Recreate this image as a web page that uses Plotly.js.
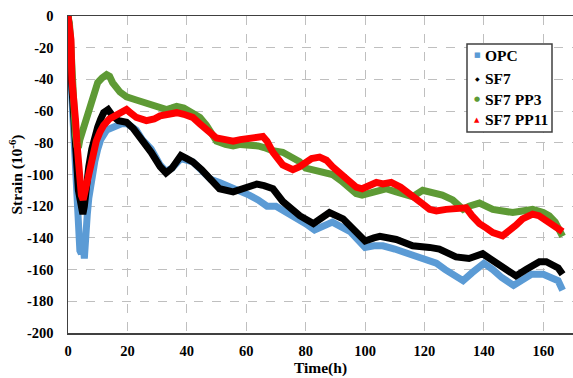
<!DOCTYPE html>
<html>
<head>
<meta charset="utf-8">
<script src="https://cdn.plot.ly/plotly-3.0.1.min.js"></script>
<style>html,body{margin:0;padding:0;background:#fff;}#chart{width:573px;height:378px;}</style>
</head>
<body>
<div id="chart"></div>
<script>
// Series names
const seriesNames = ["OPC", "SF7", "SF7 PP3", "SF7 PP11"];

// OPC
const tOPC = [0,0.5,1,1.5,2,2.5,3,3.5,4,4.5,5,5.5,6,6.5,7,8,9,10,11,13,15,18,20,23,25,28,31,33,35,38,42,45,48,51,55,58,61,64,67,70,72,75,78,80,83,86,89,92,95,98,100,103,106,110,113,116,120,124,127,130,133,136,140,143,146,150,153,156,160,163,165,166.5];
const vOPC = [0,-10,-40,-60,-65,-80,-100,-125,-148,-150,-140,-153,-130,-125,-115,-102,-92,-84,-78,-72,-70,-68,-68,-72,-78,-84,-94,-98,-96,-90,-92,-97,-103,-105,-108,-110,-113,-116,-120,-120,-122,-125,-128,-131,-135,-133,-130,-133,-136,-142,-146,-145,-145,-147,-149,-151,-153,-156,-160,-163,-167,-162,-156,-160,-165,-170,-166,-163,-163,-165,-167,-173];

// SF7
const tSF7 = [0,0.5,1,1.5,2,2.5,3,3.5,4,4.5,5,5.5,6,6.5,7,8,9,10,11,12,13.5,15,17,19.7,22,25,28,31,33,35,38,40,42,45,47.7,51,55.6,59,63.6,66,69,72.3,75,78,82.6,85,88,92.6,97,100,103,105,110.5,116,121.7,125,130.6,135,139.6,145.2,150.8,154.2,158.7,161,163.1,165,166.5];
const vSF7 = [0,-8,-35,-55,-65,-80,-95,-110,-118,-122,-125,-120,-110,-103,-95,-84,-76,-70,-65,-61,-59,-63,-66,-67,-71,-78,-86,-95,-99,-96,-88,-90,-92,-97,-103,-109,-111,-109,-106,-107,-109,-117,-121,-126,-131,-128,-124,-128,-136,-142,-140,-139,-141,-145,-146,-147,-152,-153,-150,-157,-164,-160,-155,-155,-157,-159,-163];

// SF7 PP3
const tPP3 = [0,0.5,1,1.5,2,2.5,3,3.5,4,5,5.7,7,8.5,10,11.5,13,14,15,17.5,19.7,23,26.4,30,33.2,35,36.6,39,42,44.4,46.6,48,50,53,55.6,58,61,64,66,69,72.3,75.7,78,80,84.7,89,92,94.8,97,99,101,103.8,107,110.5,113,116,119.4,122.8,126,129.5,133,135,138.5,143,146,149.7,153,156.4,160,162,164,165.5,166.5];
const vPP3 = [0,-5,-20,-45,-60,-75,-82,-83,-78,-72,-68,-57,-48,-42,-39,-37,-38,-42,-48,-51,-53,-55,-57,-59,-58,-57,-58,-61,-64,-69,-74,-79,-81,-82,-81,-81,-82,-83,-85,-86,-89,-92,-96,-98,-100,-104,-109,-112,-113,-112,-111,-109,-111,-112,-114,-110,-111,-113,-116,-122,-120,-118,-122,-123,-124,-123,-122,-124,-126,-130,-135,-139];

// SF7 PP11
const tPP11 = [0,0.5,1,1.3,1.8,2.5,3,3.5,4,4.5,5.1,5.8,6.8,7.5,8.5,9.5,10.8,12,13.9,16,18,19.7,21,23,26.4,29,31,34,36.6,39,42,44.4,46.6,50,53,55.6,58,61,63,65.6,67,69,72.3,75.7,78,80,82,84.7,87,89,92,94.8,97,99,101.5,103.8,106,108.8,112,116,119,121.7,124,127.3,131,134,136,138.5,141,143,146.3,148.5,150.8,153,156.4,158.5,161,163,165.4,166.5];
const vPP11 = [0,-5,-15,-40,-48,-65,-80,-95,-107,-113,-116,-110,-99,-92,-86,-79,-73,-69,-65,-63,-61,-59,-61,-64,-66,-65,-63,-62,-61,-62,-64,-68,-72,-77,-78,-79,-78,-77,-76,-76,-79,-86,-94,-97,-95,-92,-90,-89,-91,-95,-100,-105,-108,-109,-107,-105,-106,-105,-108,-113,-118,-122,-123,-122,-121,-121,-126,-131,-134,-136.6,-138.7,-136,-132,-128,-125,-126,-129,-131,-134.5,-136];

const xTicks = [0,20,40,60,80,100,120,140,160];
const yTicks = [0,-20,-40,-60,-80,-100,-120,-140,-160,-180,-200];

const colors = ["#5B9BD5", "#000000", "#5E9A35", "#FF0000"];
const legendGlyphs = ["■", "◆", "●", "▲"];
const glyphSizes = [7, 6, 7, 7];

const serif = '"Liberation Serif", "Times New Roman", serif';

const data = [
  [tOPC, vOPC], [tSF7, vSF7], [tPP3, vPP3], [tPP11, vPP11]
].map((d, i) => ({
  x: d[0], y: d[1], type: "scatter", mode: "lines",
  name: seriesNames[i], showlegend: false,
  line: {color: colors[i], width: 7}
}));

// plot area in pixels: left 68, right 573, top 16, bottom 333
const L = 68, R = 573, T = 16, B = 333;
const px = x => (x - L) / (R - L);
const py = y => (B - y) / (B - T);

const rowY = [55, 78, 99, 120];
const annotations = [];
seriesNames.forEach((n, i) => {
  annotations.push({
    xref: "paper", yref: "paper", x: px(477), y: py(rowY[i]),
    xanchor: "center", yanchor: "middle", showarrow: false,
    text: legendGlyphs[i],
    font: {family: "DejaVu Sans", size: glyphSizes[i], color: colors[i]}
  });
  annotations.push({
    xref: "paper", yref: "paper", x: px(483), y: py(rowY[i]),
    xanchor: "left", yanchor: "middle", showarrow: false,
    text: n,
    font: {family: serif, size: 15.5, color: "#000", weight: "bold"}
  });
});

const layout = {
  width: 573, height: 378,
  margin: {l: L, r: 573 - R, t: T, b: 378 - B},
  paper_bgcolor: "#fff", plot_bgcolor: "#fff",
  showlegend: false,
  xaxis: {
    range: [0, 170], tickvals: xTicks, ticktext: xTicks.map(String),
    showgrid: true, gridcolor: "#BFBFBF", griddash: "dash", gridwidth: 1,
    zeroline: false, showline: true, linecolor: "#404040", linewidth: 1.5, mirror: true,
    ticks: "", ticklabelstandoff: 4,
    tickfont: {family: serif, size: 14.5, color: "#000", weight: "bold"},
    title: {text: "Time(h)", standoff: 0, font: {family: serif, size: 15.5, color: "#000", weight: "bold"}}
  },
  yaxis: {
    range: [-200, 0], tickvals: yTicks, ticktext: yTicks.map(String),
    showgrid: true, gridcolor: "#BFBFBF", griddash: "dash", gridwidth: 1,
    zeroline: false, showline: true, linecolor: "#404040", linewidth: 1.5,
    ticks: "", ticklabelstandoff: 10,
    tickfont: {family: serif, size: 14.5, color: "#000", weight: "bold"},
    title: {text: "Strain (10<sup>-6</sup>)", standoff: 0, font: {family: serif, size: 15.5, color: "#000", weight: "bold"}}
  },
  shapes: [{
    type: "rect", xref: "paper", yref: "paper",
    x0: px(467), x1: px(552), y0: py(132), y1: py(44),
    line: {color: "#404040", width: 1.5}, fillcolor: "#fff", layer: "above"
  }],
  annotations: annotations
};

Plotly.newPlot("chart", data, layout, {displayModeBar: false, staticPlot: true});
</script>
</body>
</html>
